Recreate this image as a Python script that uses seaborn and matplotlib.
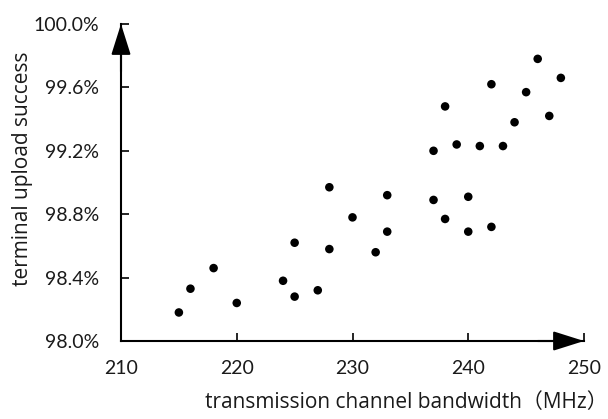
import matplotlib
matplotlib.use("Agg")
import matplotlib.pyplot as plt
import seaborn as sns
import pandas as pd
from matplotlib.ticker import FuncFormatter

bandwidth = [215, 216, 218, 220, 224, 225, 225, 227, 228, 228, 230,
             233, 233, 232, 237, 237, 238, 238, 239, 240, 240, 241,
             242, 242, 243, 244, 245, 246, 247, 248]
success = [98.18, 98.33, 98.46, 98.24, 98.38, 98.28, 98.62, 98.32, 98.97, 98.58, 98.78,
           98.92, 98.69, 98.56, 99.20, 98.89, 99.48, 98.77, 99.24, 98.91, 98.69, 99.23,
           99.62, 98.72, 99.23, 99.38, 99.57, 99.78, 99.42, 99.66]
x_ticks = [210, 220, 230, 240, 250]
y_ticks = [98.0, 98.4, 98.8, 99.2, 99.6, 100.0]
x_label = "transmission channel bandwidth（MHz）"
y_label = "terminal upload success"

df = pd.DataFrame({"bw": bandwidth, "succ": success})

sns.set_theme(style="white")
plt.rcParams['font.family'] = ['Lato', 'Noto Sans CJK SC', 'DejaVu Sans']

fig = plt.figure(figsize=(6.08, 4.19), dpi=100)
ax = fig.add_axes([121/608, 1-341/419, (584-121)/608, (341-24)/419])

sns.scatterplot(data=df, x="bw", y="succ", ax=ax, color="black", s=38,
                edgecolor="none", linewidth=0, legend=False)

ax.set_xlim(210, 250)
ax.set_ylim(98.0, 100.0)
ax.set_xticks(x_ticks)
ax.set_yticks(y_ticks)
ax.yaxis.set_major_formatter(FuncFormatter(lambda v, p: f"{v:.1f}%"))

for s in ["top", "right"]:
    ax.spines[s].set_visible(False)
for s in ["left", "bottom"]:
    ax.spines[s].set_color("black")
    ax.spines[s].set_linewidth(1.5)

ax.tick_params(axis="both", direction="in", length=6, width=1.2, color="black",
               labelsize=14, labelcolor="#1a1a1a", left=True, bottom=True)
ax.tick_params(axis="x", pad=14)
ax.tick_params(axis="y", pad=16)

ax.set_xlabel(x_label, fontsize=15, color="#1a1a1a",
              family=['Open Sans', 'Noto Sans CJK SC'], ha="right")
ax.xaxis.set_label_coords(1.052, -0.16)
ax.set_ylabel(y_label, fontsize=15, color="#1a1a1a",
              family=['Open Sans', 'Noto Sans CJK SC'])
ax.yaxis.set_label_coords(-0.19, 0.543)

arrow = dict(arrowstyle="-|>,head_length=0.95,head_width=0.3", color="black",
             mutation_scale=20, shrinkA=0, shrinkB=0, linewidth=1.5)
ax.annotate("", xy=(0, 1.0), xytext=(0, 0.85), xycoords="axes fraction",
            arrowprops=arrow, annotation_clip=False)
ax.annotate("", xy=(1.0, 0), xytext=(0.9, 0), xycoords="axes fraction",
            arrowprops=arrow, annotation_clip=False)

fig.savefig("out.png", dpi=100)
